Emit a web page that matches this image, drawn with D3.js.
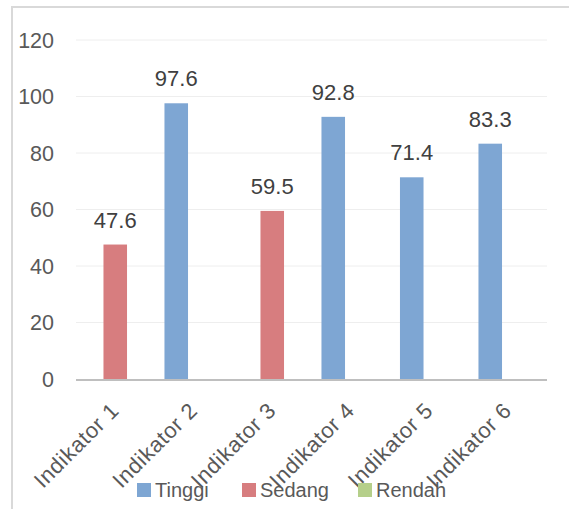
<!DOCTYPE html>
<html><head><meta charset="utf-8">
<script src="https://cdn.jsdelivr.net/npm/d3@7"></script>
<style>body{margin:0;background:#fff}svg{display:block}</style>
</head><body>
<svg id="c" width="569" height="509"></svg>
<script>
const categories = ["Indikator 1","Indikator 2","Indikator 3","Indikator 4","Indikator 5","Indikator 6"];
const seriesNames = ["Tinggi","Sedang","Rendah"];
const tinggi = [0, 97.6, 0, 92.8, 71.4, 83.3];
const sedang = [47.6, 0, 59.5, 0, 0, 0];
const rendah = [0, 0, 0, 0, 0, 0];
const yTicks = [0,20,40,60,80,100,120];
const colors = ["#7ea6d3","#d77d7f","#b5cf8a"];

const seriesVals = [tinggi, sedang, rendah];
const svg = d3.select("#c");
const font = "'Liberation Sans', Arial, sans-serif";
const m = {l:76, r:547, t:40, b:379};

// outer border
svg.append("path").attr("d","M12,509 V7 H569").attr("fill","none").attr("stroke","#d9d9d9").attr("stroke-width",2);

const x = d3.scaleBand().domain(categories).range([m.l, m.r]).padding(0);
const y = d3.scaleLinear().domain([0,120]).range([m.b, m.t]);
const bw = x.bandwidth();
const barW = bw*0.30;
const xs = d3.scalePoint().domain(seriesNames).range([-bw*0.223, bw*0.223]);

// gridlines
svg.append("g").selectAll("line").data(yTicks.filter(t=>t>0)).join("line")
  .attr("x1",m.l).attr("x2",m.r).attr("y1",d=>y(d)).attr("y2",d=>y(d))
  .attr("stroke","#eeeeee").attr("stroke-width",1);

// y tick labels
svg.append("g").selectAll("text").data(yTicks).join("text")
  .attr("x",54).attr("y",d=>y(d)).attr("dy","0.36em").attr("text-anchor","end")
  .attr("font-family",font).attr("font-size",21.5).attr("fill","#595959").text(d=>d);

// bars
const data = [];
categories.forEach((c,i)=>seriesNames.forEach((s,j)=>{ if(seriesVals[j][i]>0) data.push({c,s,v:seriesVals[j][i],j}); }));
svg.append("g").selectAll("rect").data(data).join("rect")
  .attr("x",d=>x(d.c)+bw/2+xs(d.s)-barW/2).attr("width",barW)
  .attr("y",d=>y(d.v)).attr("height",d=>y(0)-y(d.v))
  .attr("fill",d=>colors[d.j]);

// data labels
svg.append("g").selectAll("text").data(data).join("text")
  .attr("x",d=>x(d.c)+bw/2+xs(d.s)).attr("y",d=>y(d.v)-17)
  .attr("text-anchor","middle").attr("font-family",font).attr("font-size",22)
  .attr("fill","#404040").text(d=>d.v.toFixed(1));

// axis line
svg.append("line").attr("x1",m.l).attr("x2",m.r).attr("y1",y(0)+1).attr("y2",y(0)+1)
  .attr("stroke","#bfbfbf").attr("stroke-width",2);

// category labels
svg.append("g").selectAll("text").data(categories).join("text")
  .attr("transform",d=>`translate(${x(d)+bw/2+5},${y(0)+33}) rotate(-45)`)
  .attr("text-anchor","end").attr("font-family",font).attr("font-size",22)
  .attr("letter-spacing",0.6)
  .attr("fill","#595959").text(d=>d);

// legend
const legX = [137, 242, 358];
const lg = svg.append("g").selectAll("g").data(seriesNames).join("g")
  .attr("transform",(d,i)=>`translate(${legX[i]},483)`);
lg.append("rect").attr("width",14).attr("height",14).attr("fill",(d,i)=>colors[i]);
lg.append("text").attr("x",18).attr("y",14)
  .attr("font-family",font).attr("font-size",20).attr("fill","#595959").text(d=>d);
</script>
</body></html>
